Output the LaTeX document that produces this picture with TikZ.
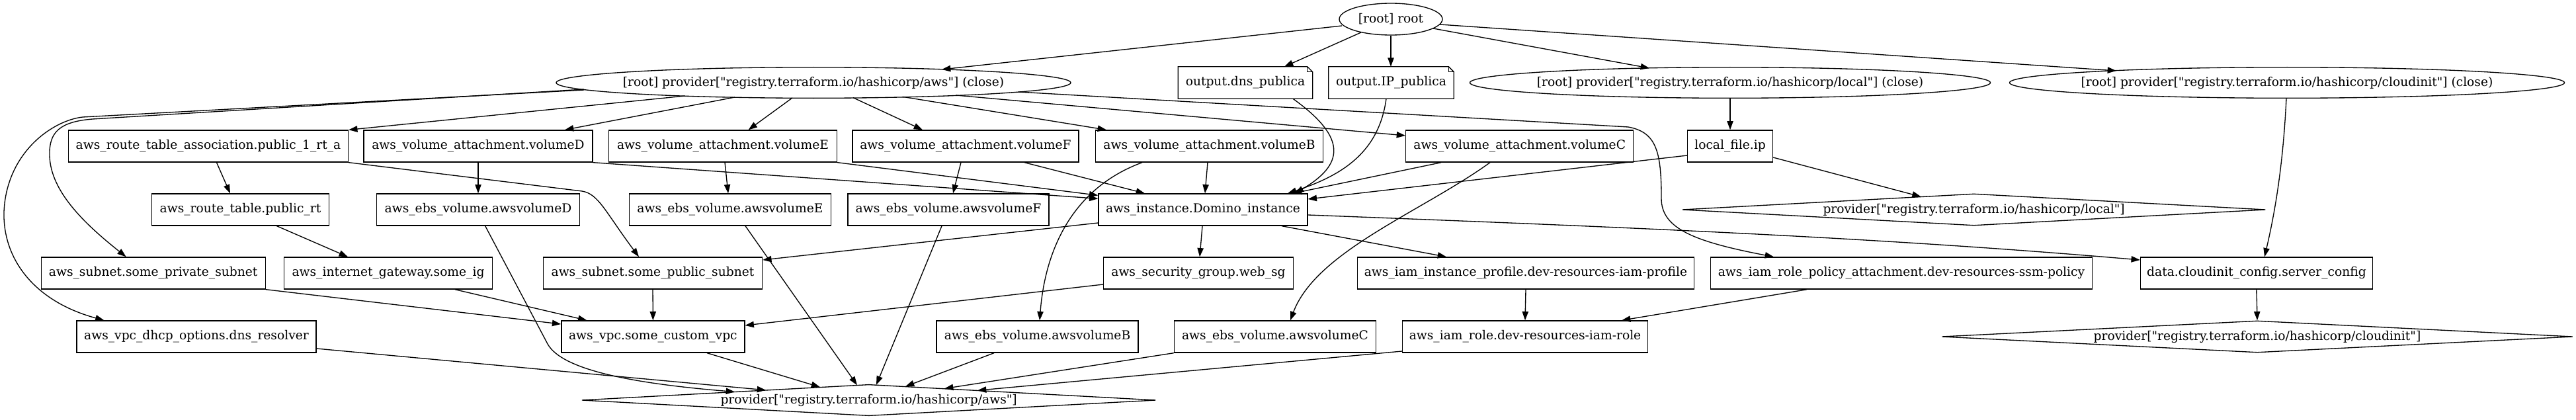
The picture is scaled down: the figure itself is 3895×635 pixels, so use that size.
\documentclass[tikz,border=0pt]{standalone}
\usepackage{fontspec}
\setmainfont{DejaVu Serif}[Ligatures=TeXOff]
\usetikzlibrary{shapes.geometric,arrows.meta,calc}
\newcommand\gvf{\fontsize{14pt}{16pt}\selectfont}
\tikzset{
  box/.style={draw, rectangle, line width=1pt, minimum height=36pt, inner sep=0pt, font=\gvf},
  oval/.style={draw, ellipse, line width=1pt, minimum height=35pt, inner sep=0pt},
  dia/.style={draw, diamond, line width=1pt, minimum height=36pt, inner sep=0pt},
  notebox/.style={rectangle, minimum height=36pt, inner sep=0pt, font=\gvf},
  notedraw/.style={line width=1pt, line join=miter},
  every label/.style={font=\gvf, inner sep=0pt},
  e/.style={line width=1pt, -{Triangle[length=10pt,width=7pt]}}
}
\begin{document}
\begin{tikzpicture}[x=0.75pt,y=-0.75pt]
\useasboundingbox (0,0) rectangle (3895,635);

% ---------- row 0 ----------
\node[oval, minimum width=117pt, minimum height=36pt, label=center:{[root] root}] (root) at (2103,29) {};

% ---------- row 1 ----------
\node[oval, minimum width=583.5pt, label=center:{[root] provider["registry.terraform.io/hashicorp/aws"] (close)}] (paws) at (1230,125) {};
\node[notebox, minimum width=152.25pt] (dns) at (1883,125) {output.dns\_publica};
\node[notebox, minimum width=141.75pt] (ip) at (2103.5,125) {output.IP\_publica};
\node[oval, minimum width=590.25pt, label=center:{[root] provider["registry.terraform.io/hashicorp/local"] (close)}] (plocal) at (2616,125) {};
\node[oval, minimum width=629.25pt, label=center:{[root] provider["registry.terraform.io/hashicorp/cloudinit"] (close)}] (pcloud) at (3458,125) {};

\foreach \n in {dns,ip}{
  \draw[notedraw] (\n.north west) -- ([xshift=-6pt]\n.north east) -- ([yshift=-6pt]\n.north east) -- (\n.south east) -- (\n.south west) -- cycle;
  \draw[notedraw] ([xshift=-6pt]\n.north east) |- ([yshift=-6pt]\n.north east);
}

% ---------- row 2 ----------
\node[box, minimum width=317.25pt] (rta) at (315,221) {aws\_route\_table\_association.public\_1\_rt\_a};
\node[box, minimum width=259.5pt] (vD) at (723,221) {aws\_volume\_attachment.volumeD};
\node[box, minimum width=258.75pt] (vE) at (1093,221) {aws\_volume\_attachment.volumeE};
\node[box, minimum width=256.5pt] (vF) at (1460,221) {aws\_volume\_attachment.volumeF};
\node[box, minimum width=258pt] (vB) at (1828.5,221) {aws\_volume\_attachment.volumeB};
\node[box, minimum width=258pt] (vC) at (2297.7,221) {aws\_volume\_attachment.volumeC};
\node[box, minimum width=96.5pt] (lfile) at (2616,221) {local\_file.ip};

% ---------- row 3 ----------
\node[box, minimum width=201pt] (rt) at (363.5,317) {aws\_route\_table.public\_rt};
\node[box, minimum width=230pt] (eD) at (723,317) {aws\_ebs\_volume.awsvolumeD};
\node[box, minimum width=228.75pt] (eE) at (1104,317) {aws\_ebs\_volume.awsvolumeE};
\node[box, minimum width=228pt] (eF) at (1434,317) {aws\_ebs\_volume.awsvolumeF};
\node[box, minimum width=237pt] (inst) at (1819,317) {aws\_instance.Domino\_instance};
\node[dia, minimum width=661.5pt, label=center:{provider["registry.terraform.io/hashicorp/local"]}] (dlocal) at (2984.6,317) {};

% ---------- row 4 ----------
\node[box, minimum width=254.25pt] (priv) at (231.7,413) {aws\_subnet.some\_private\_subnet};
\node[box, minimum width=236.25pt] (igw) at (587,413) {aws\_internet\_gateway.some\_ig};
\node[box, minimum width=248.25pt] (pub) at (987,413) {aws\_subnet.some\_public\_subnet};
\node[box, minimum width=215.25pt] (sg) at (1812,413) {aws\_security\_group.web\_sg};
\node[box, minimum width=381.75pt] (prof) at (2307,413) {aws\_iam\_instance\_profile.dev-resources-iam-profile};
\node[box, minimum width=432.75pt] (rpa) at (2875,413) {aws\_iam\_role\_policy\_attachment.dev-resources-ssm-policy};
\node[box, minimum width=263.25pt] (dcfg) at (3412,413) {data.cloudinit\_config.server\_config};

% ---------- row 5 ----------
\node[box, minimum width=271.5pt] (dhcp) at (297,509) {aws\_vpc\_dhcp\_options.dns\_resolver};
\node[box, minimum width=207.75pt] (vpc) at (987.4,509) {aws\_vpc.some\_custom\_vpc};
\node[box, minimum width=228.75pt] (eB) at (1568.6,509) {aws\_ebs\_volume.awsvolumeB};
\node[box, minimum width=228.75pt] (eC) at (1928,509) {aws\_ebs\_volume.awsvolumeC};
\node[box, minimum width=278.25pt] (role) at (2306,509) {aws\_iam\_role.dev-resources-iam-role};
\node[dia, minimum width=715.5pt, label=center:{provider["registry.terraform.io/hashicorp/cloudinit"]}] (dcloud) at (3413,509) {};

% ---------- row 6 ----------
\node[dia, minimum width=651pt, minimum height=35.5pt, label=center:{provider["registry.terraform.io/hashicorp/aws"]}] (daws) at (1313.6,605) {};

% ---------- edges from root ----------
\draw[e] ($(root)+(-74,10)$) -- ($(paws)+(194,-20)$);
\draw[e] ($(root)+(-45,20)$) -- ($(dns.north)+(59,0)$);
\draw[e] (root.south) -- (root.south |- ip.north);
\draw[e] ($(root)+(64,14)$) -- ($(plocal)+(-122,-22)$);
\draw[e] ($(root)+(74,8)$) -- ($(pcloud)+(-258,-18)$);

% ---------- edges from aws provider (close) ----------
\draw[e] ($(paws)+(-194,20)$) -- (rta.north east);
\draw[e] ($(paws)+(-119,22)$) -- ($(vD.north)+(131,0)$);
\draw[e] ($(paws)+(-32,23)$) -- ($(vE.north)+(38.6,0)$);
\draw[e] ($(paws)+(60,22.7)$) -- ($(vF.north)+(-65,0)$);
\draw[e] ($(paws)+(136,21.5)$) -- ($(vB.north)+(-155.5,0)$);
\draw[e] ($(paws)+(215,19)$) -- ($(vC.west)+(0,-16)$);
\draw[e] ($(paws)+(310,14)$) -- (2462,192) .. controls (2505,200) and (2512,230) .. (2512,300) .. controls (2512,345) and (2560,365) .. ($(rpa.north)+(-193,0)$);
\draw[e] ($(paws)+(-347,10)$) -- (140,180) .. controls (90,184) and (74,200) .. (75,235) .. controls (76,290) and (130,340) .. ($(priv.north)+(-41,0)$);
\draw[e] ($(paws)+(-347,11)$) -- (125,177) .. controls (80,182) and (10,230) .. (6,320) .. controls (4,390) and (50,455) .. ($(dhcp.north)+(-139.5,0)$);

% ---------- row 2 edges ----------
\draw[e] ($(rta.south)+(12.5,0)$) -- ($(rt.north)+(-15.5,0)$);
\draw[e] (rta.south east) -- (880,289) .. controls (905,293) and (915,320) .. ($(pub.north)+(-21,0)$);
\draw[e] (vD.south) -- (eD.north);
\draw[e] (vD.south east) -- ($(inst.north west)+(0,8)$);
\draw[e] ($(vE.south)+(3,0)$) -- ($(eE.north)+(-3,0)$);
\draw[e] (vE.south east) -- ($(inst.north west)+(0,3)$);
\draw[e] ($(vF.south)+(-7,0)$) -- ($(eF.north)+(7,0)$);
\draw[e] ($(vF.south)+(89,0)$) -- ($(inst.north)+(-88,0)$);
\draw[e] ($(vB.south)+(-2.5,0)$) -- ($(inst.north)+(3,0)$);
\draw[e] ($(vB.south)+(-101.5,0)$) .. controls (1620,285) and (1580,380) .. ($(eB.north)+(3.4,0)$);
\draw[e] ($(vC.south)+(-118.7,0)$) -- ($(inst.north)+(136,0)$);
\draw[e] ($(vC.south)+(-44.7,0)$) .. controls (2150,320) and (1990,380) .. ($(eC.north)+(23,0)$);
\draw[e] ($(dns.south)+(72,0)$) .. controls (2040,210) and (2030,250) .. ($(inst.north)+(139,0)$);
\draw[e] ($(ip.south)+(-7.5,0)$) .. controls (2085,230) and (2030,265) .. ($(inst.north)+(128,0)$);
\draw[e] ($(lfile.west)+(0,14)$) -- ($(inst.east)+(0,-16)$);
\draw[e] ($(lfile.east)+(0,17)$) -- ($(dlocal)+(-80,-19.6)$);
\draw[e] (plocal.south) -- (lfile.north);
\draw[e] ($(pcloud.south)+(-1,0)$) .. controls (3452,250) and (3440,320) .. ($(dcfg.north)+(12,0)$);
\draw[e] (dcfg.south) -- (dcloud.north);

% ---------- row 3/4 edges ----------
\draw[e] ($(inst.east)+(0,8)$) .. controls (2500,345) and (2850,360) .. ($(dcfg.west)+(0,-20)$);
\draw[e] ($(inst.south)+(119,0)$) -- ($(prof.north)+(-120,0)$);
\draw[e] ($(inst.south)+(-1,0)$) -- ($(sg.north)+(2,0)$);
\draw[e] ($(inst.west)+(0,20)$) -- ($(pub.east)+(0,-20)$);
\draw[e] ($(sg.west)+(0,17)$) -- ($(vpc.east)+(0,-17)$);
\draw[e] (pub.south) -- (vpc.north);
\draw[e] (priv.south east) -- ($(vpc.west)+(0,-19)$);
\draw[e] ($(igw.south)+(101,0)$) -- ($(vpc.north)+(-100,0)$);
\draw[e] ($(rt.south)+(55,0)$) -- ($(igw.north)+(-61,0)$);
\draw[e] (prof.south) -- (role.north);
\draw[e] ($(rpa.south)+(-143,0)$) -- ($(role.north)+(146,0)$);

% ---------- edges into aws provider ----------
\draw[e] ($(eD.south)+(10.7,0)$) -- (828,520) .. controls (850,560) and (960,580) .. ($(daws)+(-202.6,-12.6)$);
\draw[e] ($(dhcp.east)+(0,18)$) -- ($(daws)+(-155.6,-15.2)$);
\draw[e] ($(vpc.south)+(81.6,0)$) -- ($(daws)+(-73.6,-19.7)$);
\draw[e] ($(eE.south)+(23,0)$) -- ($(daws)+(-17.6,-22.7)$);
\draw[e] ($(eF.south)+(-10,0)$) -- ($(daws)+(11.4,-23.1)$);
\draw[e] ($(eB.south)+(-65.6,0)$) -- ($(daws)+(55.4,-20.7)$);
\draw[e] (eC.south west) -- ($(daws)+(114.4,-17.5)$);
\draw[e] ($(role.west)+(0,22)$) -- ($(daws)+(164.4,-14.7)$);
\end{tikzpicture}
\end{document}
